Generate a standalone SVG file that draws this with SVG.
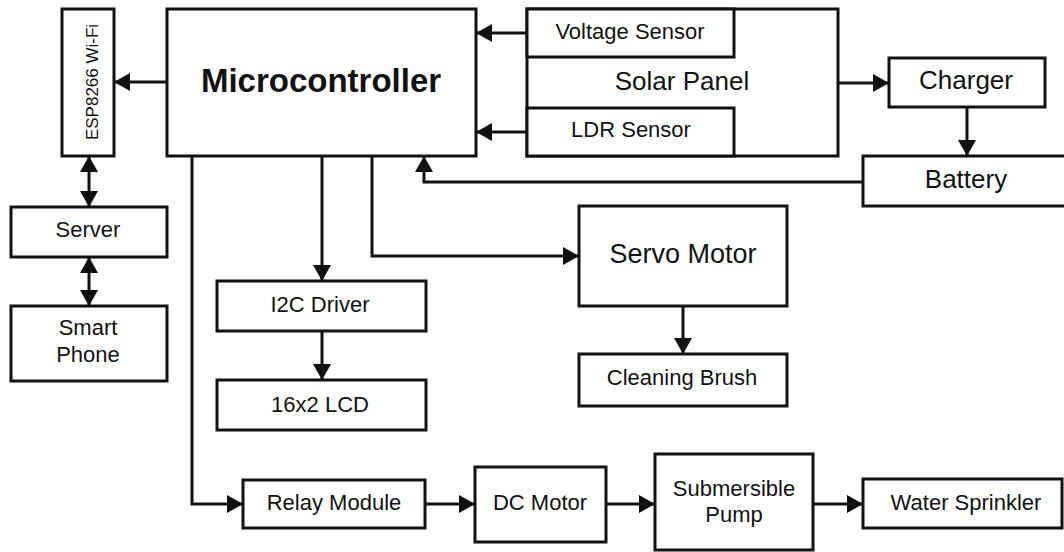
<svg xmlns="http://www.w3.org/2000/svg" width="1064" height="552" viewBox="0 0 1064 552">
<style>
  rect { fill: #fff; stroke: #111; stroke-width: 3; }
  text { font-family: "Liberation Sans", Arial, sans-serif; fill: #111; text-anchor: middle; }
  .s { font-size: 22px; }
  .m { font-size: 26px; }
  .c { fill: none; stroke: #111; stroke-width: 3; marker-end: url(#ah); }
  .d { marker-start: url(#ah); }
</style>
<defs>
  <marker id="ah" markerUnits="userSpaceOnUse" markerWidth="16" markerHeight="18" refX="16" refY="9" orient="auto-start-reverse" viewBox="0 0 16 18">
    <path d="M0,0 L16,9 L0,18 Z" fill="#111"/>
  </marker>
</defs>
<rect x="0" y="0" width="1064" height="552" style="fill:#fff;stroke:none"/>

<g id="connectors">
  <path class="c" d="M167,82 H114"/>
  <path class="c" d="M527,33 H476"/>
  <path class="c" d="M527,132 H476"/>
  <path class="c" d="M838,83 H889"/>
  <path class="c" d="M967,107 V156"/>
  <path class="c" d="M863,182 H424 V156"/>
  <path class="c d" d="M89,156 V207"/>
  <path class="c d" d="M89,257 V306"/>
  <path class="c" d="M322,156 V281"/>
  <path class="c" d="M322,331 V380"/>
  <path class="c" d="M372,156 V256 H579"/>
  <path class="c" d="M683,306 V354"/>
  <path class="c" d="M192,156 V504 H243"/>
  <path class="c" d="M425,504 H475"/>
  <path class="c" d="M606,504 H655"/>
  <path class="c" d="M813,504 H863"/>
</g>

<g id="esp8266">
  <rect x="62" y="9" width="52" height="147"/>
  <text transform="translate(98,82) rotate(-90)" style="font-size:17px">ESP8266 Wi-Fi</text>
</g>
<g id="microcontroller">
  <rect x="167" y="9" width="309" height="147"/>
  <text x="321" y="92" style="font-size:33px;font-weight:bold">Microcontroller</text>
</g>
<g id="solar-panel">
  <rect x="527" y="9" width="311" height="147"/>
  <text x="682" y="90" class="m">Solar Panel</text>
</g>
<g id="voltage-sensor">
  <rect x="527" y="9" width="207" height="48"/>
  <text x="630" y="39" class="s">Voltage Sensor</text>
</g>
<g id="ldr-sensor">
  <rect x="527" y="108" width="207" height="48"/>
  <text x="631" y="137" class="s">LDR Sensor</text>
</g>
<g id="charger">
  <rect x="889" y="58" width="156" height="49"/>
  <text x="966" y="89" class="m">Charger</text>
</g>
<g id="battery">
  <rect x="863" y="156" width="210" height="50"/>
  <text x="966" y="188" class="m">Battery</text>
</g>
<g id="server">
  <rect x="11" y="207" width="156" height="50"/>
  <text x="88" y="237" class="s">Server</text>
</g>
<g id="smart-phone">
  <rect x="11" y="306" width="156" height="75"/>
  <text x="88" y="335" class="s">Smart</text>
  <text x="88" y="362" class="s">Phone</text>
</g>
<g id="i2c-driver">
  <rect x="217" y="281" width="209" height="50"/>
  <text x="320" y="312" class="s">I2C Driver</text>
</g>
<g id="lcd">
  <rect x="217" y="380" width="209" height="50"/>
  <text x="320" y="412" class="s">16x2 LCD</text>
</g>
<g id="servo-motor">
  <rect x="579" y="206" width="208" height="100"/>
  <text x="683" y="263" style="font-size:27px">Servo Motor</text>
</g>
<g id="cleaning-brush">
  <rect x="579" y="354" width="208" height="52"/>
  <text x="682" y="385" class="s">Cleaning Brush</text>
</g>
<g id="relay-module">
  <rect x="243" y="480" width="182" height="48"/>
  <text x="334" y="510" class="s">Relay Module</text>
</g>
<g id="dc-motor">
  <rect x="475" y="467" width="131" height="75"/>
  <text x="540" y="510" class="s">DC Motor</text>
</g>
<g id="submersible-pump">
  <rect x="655" y="454" width="158" height="96"/>
  <text x="734" y="496" class="s">Submersible</text>
  <text x="734" y="522" class="s">Pump</text>
</g>
<g id="water-sprinkler">
  <rect x="863" y="479" width="199" height="49"/>
  <text x="966" y="510" class="s">Water Sprinkler</text>
</g>
</svg>
